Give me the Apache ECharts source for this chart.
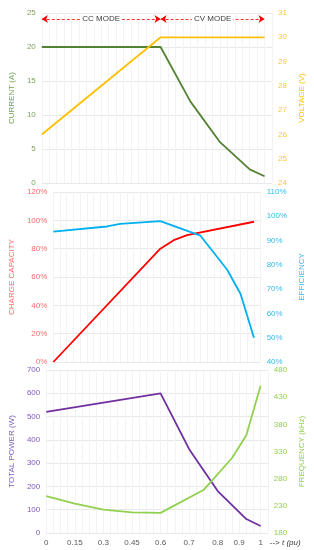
<!DOCTYPE html>
<html><head><meta charset="utf-8">
<script src="https://cdn.jsdelivr.net/npm/echarts@6/dist/echarts.min.js"></script>
<style>html,body{margin:0;padding:0;background:#fff}#c{width:314px;height:550px}</style>
</head><body><div id="c"></div>
<script>
// x positions are grid steps (31 equal steps across the plot), labelled with t (pu)
const tickSteps = [0, 4, 8, 12, 16, 20, 24, 27, 30];
const tickText  = ['0', '0.15', '0.3', '0.45', '0.6', '0.7', '0.8', '0.9', '1'];

const currentStep = [0, 16, 20, 24, 28, 30];
const currentA    = [20, 20, 12, 6, 2, 1];
const voltageStep = [0, 16, 30];
const voltageV    = [26, 30, 30];

const chargeStep = [0, 16, 18, 20, 30];
const chargePct  = [0, 80, 86, 89.5, 99];
const effStep    = [0, 8, 10, 16, 22, 26, 28, 30];
const effPct     = [93.7, 95.8, 96.9, 98, 92, 78, 68, 50];

const powerStep = [0, 16, 20, 24, 28, 30];
const powerW    = [520, 600, 360, 180, 60, 30];
const freqStep  = [0, 4, 8, 12, 16, 22, 26, 28, 30];
const freqKHz   = [248, 234, 223, 218, 217, 259, 318, 360, 451];

const modeNames = ['CC MODE', 'CV MODE'];
const modeFrom  = [0, 16];
const modeTo    = [16, 30];
const modeLevel = 24.1;

const FONT = 'Liberation Sans';
const pairs = (xs, ys) => xs.map((x, i) => [x, ys[i]]);

const grids = [
  {left: 40, right: 42, top: 13, height: 170},
  {left: 40, right: 42, top: 192, height: 170},
  {left: 40, right: 42, top: 370, height: 163}
];

function xAxis(i, showLabels) {
  return {
    type: 'value', gridIndex: i, min: 0, max: 31, interval: 1,
    axisLine: {show: false}, axisTick: {show: false},
    splitLine: {show: true, lineStyle: {color: '#f3f3f3', width: 1}},
    axisLabel: {
      show: showLabels, fontFamily: FONT, fontSize: 8, color: '#595959', margin: 6,
      formatter: v => { const k = tickSteps.indexOf(v); return k >= 0 ? tickText[k] : ''; }
    },
    name: showLabels ? '--> {i|t (pu)}' : '',
    nameLocation: 'end', nameGap: 2,
    nameTextStyle: {fontFamily: FONT, fontSize: 8, color: '#404040', verticalAlign: 'top',
      padding: [6, 0, 0, 0], rich: {i: {fontStyle: 'italic', fontFamily: FONT, fontSize: 8, color: '#404040'}}}
  };
}

function yAxis(grid, pos, min, max, interval, name, nameColor, labelColor, gap, grid_lines, fmt) {
  return {
    type: 'value', gridIndex: grid, position: pos, min, max, interval,
    name, nameLocation: 'middle', nameRotate: 90, nameGap: gap,
    nameTextStyle: {fontFamily: FONT, fontSize: 8, color: nameColor},
    axisLine: {show: false}, axisTick: {show: false},
    axisLabel: {fontFamily: FONT, fontSize: 8, color: labelColor, margin: 6, formatter: fmt || '{value}'},
    splitLine: {show: grid_lines, lineStyle: {color: '#e8e8e8', width: 1}}
  };
}

const modeLines = modeNames.map((n, i) => [
  {coord: [modeFrom[i], modeLevel], name: n},
  {coord: [modeTo[i], modeLevel]}
]);

const lineSeries = (name, x, y, data, color) => ({
  name, type: 'line', xAxisIndex: x, yAxisIndex: y, data, showSymbol: false,
  lineStyle: {color, width: 1.8}, itemStyle: {color}, animation: false
});

const cur = lineSeries('Current', 0, 0, pairs(currentStep, currentA), '#548235');
cur.markLine = {
  silent: true, symbol: ['arrow', 'arrow'], symbolSize: [6, 6],
  lineStyle: {color: '#ff0000', type: [3, 2], width: 0.8},
  label: {show: true, position: 'middle', distance: 0, formatter: '{b}', fontFamily: FONT, fontSize: 8,
    color: '#404040', backgroundColor: '#ffffff', padding: [1, 2], verticalAlign: 'middle'},
  data: modeLines, animation: false
};

const option = {
  animation: false,
  grid: grids,
  xAxis: [xAxis(0, false), xAxis(1, false), xAxis(2, true)],
  yAxis: [
    yAxis(0, 'left', 0, 25, 5, 'CURRENT (A)', '#70a050', '#7f9f5f', 18, true),
    yAxis(0, 'right', 24, 31, 1, 'VOLTAGE (V)', '#ffc000', '#ffc832', 16, false),
    yAxis(1, 'left', 0, 120, 20, 'CHARGE CAPACITY', '#ff6b6b', '#ff6b6b', 25, true, '{value}%'),
    yAxis(1, 'right', 40, 110, 10, 'EFFICIENCY', '#33bbee', '#33bbee', 26, false, '{value}%'),
    yAxis(2, 'left', 0, 700, 100, 'TOTAL POWER (W)', '#7d5bbf', '#7d5bbf', 21, true),
    yAxis(2, 'right', 180, 480, 50, 'FREQUENCY (kHz)', '#92d050', '#92d050', 23, false)
  ],
  series: [
    cur,
    lineSeries('Voltage', 0, 1, pairs(voltageStep, voltageV), '#ffc000'),
    lineSeries('Charge capacity', 1, 2, pairs(chargeStep, chargePct), '#ff0000'),
    lineSeries('Efficiency', 1, 3, pairs(effStep, effPct), '#00b0f0'),
    lineSeries('Total power', 2, 4, pairs(powerStep, powerW), '#7030a0'),
    lineSeries('Frequency', 2, 5, pairs(freqStep, freqKHz), '#92d050')
  ]
};

const chart = echarts.init(document.getElementById('c'), null, {renderer: 'canvas'});
chart.setOption(option);
</script>
</body></html>
